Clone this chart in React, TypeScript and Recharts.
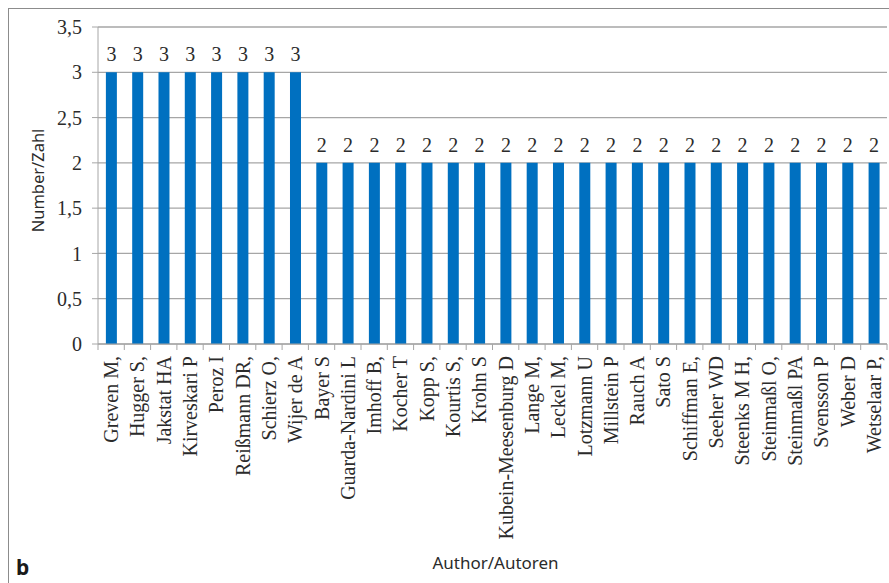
import { BarChart, Bar, XAxis, YAxis, CartesianGrid, LabelList } from "recharts";

const authors = [
  "Greven M,",
  "Hugger S,",
  "Jakstat HA",
  "Kirveskari P",
  "Peroz I",
  "Reißmann DR,",
  "Schierz O,",
  "Wijer de A",
  "Bayer S",
  "Guarda-Nardini L",
  "Imhoff B,",
  "Kocher T",
  "Kopp S,",
  "Kourtis S,",
  "Krohn S",
  "Kubein-Meesenburg D",
  "Lange M,",
  "Leckel M,",
  "Lotzmann U",
  "Millstein P",
  "Rauch A",
  "Sato S",
  "Schiffman E,",
  "Seeher WD",
  "Steenks M H,",
  "Steinmaßl O,",
  "Steinmaßl PA",
  "Svensson P",
  "Weber D",
  "Wetselaar P,",
];

const counts = [3, 3, 3, 3, 3, 3, 3, 3, 2, 2, 2, 2, 2, 2, 2, 2, 2, 2, 2, 2, 2, 2, 2, 2, 2, 2, 2, 2, 2, 2];

const yTicks = [0, 0.5, 1, 1.5, 2, 2.5, 3, 3.5];

const data = authors.map((name, i) => ({ name, value: counts[i] }));

const SERIF = '"Liberation Serif", "Times New Roman", serif';
const SANS = '"Noto Sans", "Open Sans", sans-serif';
const GRID = "#a6a6a6";
const TEXT = "#2b2b2b";

const fmt = (v: number) => String(v).replace(".", ",");

// rotated author name plus a tick mark at the left edge of each category
function AuthorTick(props: any) {
  const { x, y, payload, index, width, visibleTicksCount } = props;
  const half = payload?.offset ?? width / visibleTicksCount / 2;
  const left = x - half;
  const isLast = index === authors.length - 1;
  return (
    <g>
      <line x1={left} x2={left} y1={y} y2={y + 6} stroke={GRID} />
      {isLast && <line x1={x + half} x2={x + half} y1={y} y2={y + 6} stroke={GRID} />}
      <text
        x={x}
        y={y + 12}
        transform={`rotate(-90, ${x}, ${y + 12})`}
        textAnchor="end"
        dominantBaseline="central"
        fontFamily={SERIF}
        fontSize={20}
        fill={TEXT}
      >
        {payload.value}
      </text>
    </g>
  );
}

export default function App() {
  return (
    <div style={{ position: "absolute", left: 0, top: 0, width: 889, height: 583, background: "#fff", overflow: "hidden" }}>
      <div
        style={{
          position: "absolute",
          left: 8,
          top: 8,
          width: 900,
          height: 600,
          borderTop: "1px solid #8c8c8c",
          borderLeft: "1px solid #8c8c8c",
        }}
      />
      <div style={{ position: "absolute", left: 0, top: 0 }}>
        <BarChart
          width={889}
          height={583}
          data={data}
          margin={{ top: 27, right: 2, bottom: 0, left: 0 }}
          barCategoryGap="30%"
        >
          <CartesianGrid vertical={false} stroke={GRID} strokeWidth={1.3} />
          <XAxis
            dataKey="name"
            interval={0}
            height={239}
            tickLine={false}
            tickSize={0}
            tickMargin={0}
            axisLine={{ stroke: GRID }}
            tick={<AuthorTick />}
            label={{
              value: "Author/Autoren",
              position: "insideBottom",
              offset: 14,
              dx: 3,
              fontFamily: SANS,
              fontSize: 17,
              fill: TEXT,
            }}
          />
          <YAxis
            width={98}
            domain={[0, 3.5]}
            ticks={yTicks}
            tickFormatter={fmt}
            tickSize={6}
            tickMargin={10}
            axisLine={{ stroke: GRID }}
            tickLine={{ stroke: GRID }}
            tick={{ fontFamily: SERIF, fontSize: 20, fill: TEXT }}
            label={{
              value: "Number/Zahl",
              angle: -90,
              position: "center",
              dx: -11,
              dy: -5,
              fontFamily: SANS,
              fontSize: 16.5,
              fill: TEXT,
            }}
          />
          <Bar dataKey="value" fill="#0070c0" isAnimationActive={false}>
            <LabelList
              dataKey="value"
              position="top"
              offset={11}
              fontFamily={SERIF}
              fontSize={20}
              fill={TEXT}
            />
          </Bar>
        </BarChart>
      </div>
      <div
        style={{
          position: "absolute",
          left: 16,
          top: 553,
          fontFamily: SANS,
          fontWeight: 700,
          fontSize: 21,
          color: "#1a1a1a",
        }}
      >
        b
      </div>
    </div>
  );
}
